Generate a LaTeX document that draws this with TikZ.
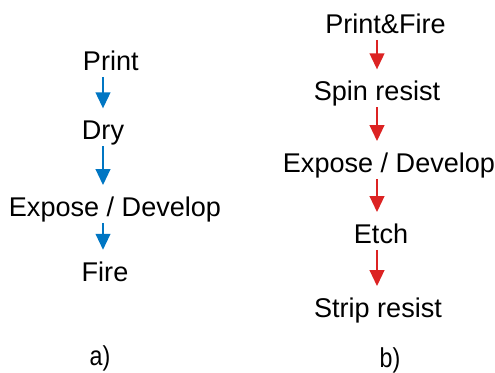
\documentclass[tikz,border=0pt]{standalone}
\usepackage{fontspec}
\setmainfont{Liberation Sans}
\usepackage{xcolor}
\usepackage{tikz}
\usetikzlibrary{arrows.meta}

\definecolor{flowblue}{RGB}{0,118,195}
\definecolor{flowred}{RGB}{220,35,35}

\tikzset{
    stage/.style={inner sep=0pt, text height=14.5pt, text depth=0pt,
        font=\fontsize{20.3}{23}\selectfont},
    flow/.style={line width=1.5pt, -{Triangle[width=11pt,length=12pt]},
        shorten <=4.5pt, shorten >=9pt},
    caption/.style={inner sep=0pt, font=\fontsize{20.5}{24}\selectfont}
}

\begin{document}
\begin{tikzpicture}[x=0.75pt,y=-0.75pt]
    \useasboundingbox (0,0) rectangle (495,372);
    % a) screen printing
    \foreach \n/\x/\y/\t in {printa/110.8/61/Print, dry/103/130.3/Dry,
                             exposea/115/207/{Expose / Develop}, firea/105/271.7/Fire} {
        \node[stage] (\n) at (\x,\y) {\t};
    }
    \foreach \a/\b in {printa/dry, dry/exposea, exposea/firea} {
        \draw[flow, flowblue] (\a.south -| dry) -- (\b.north -| dry);
    }
    \node[caption] (capa) at (100,358) {\scalebox{0.85}[1]{a)}};
    % b) photolithography
    \foreach \n/\x/\y/\t in {printb/385.5/24/Print\&Fire, spin/377/91.3/Spin resist,
                             exposeb/389/163/{Expose / Develop}, etch/381/234/Etch,
                             strip/378/308/Strip resist} {
        \node[stage] (\n) at (\x,\y) {\t};
    }
    \foreach \a/\b in {printb/spin, spin/exposeb, exposeb/etch, etch/strip} {
        \draw[flow, flowred] (\a.south -| spin) -- (\b.north -| spin);
    }
    \node[caption] (capb) at (390,360) {\scalebox{0.85}[1]{b)}};
\end{tikzpicture}
\end{document}
